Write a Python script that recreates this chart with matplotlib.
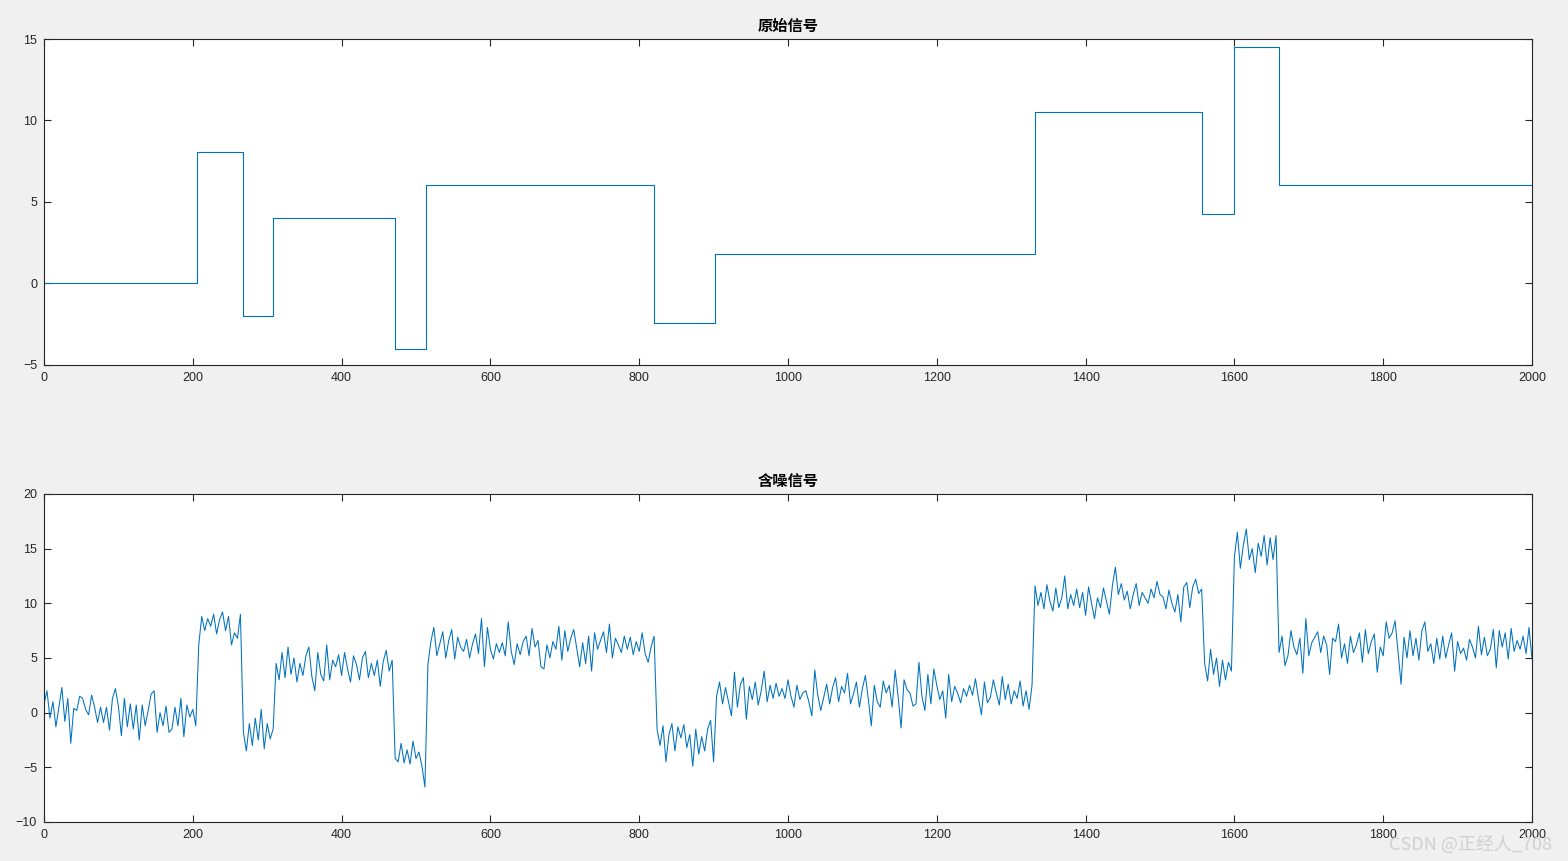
import numpy as np
import matplotlib
matplotlib.use("Agg")
import matplotlib.pyplot as plt

plt.rcParams['font.family'] = ['Liberation Sans', 'Noto Sans CJK SC', 'DejaVu Sans']

# original (blocks) signal: change points and levels
change_points = [0, 205, 267, 308, 472, 513, 820, 902, 1332, 1557, 1599, 1660, 2000]
block_levels = [0, 8.08, -2.02, 4.04, -4.04, 6.06, -2.42, 1.82, 10.5, 4.24, 14.5, 6.06]

# noisy signal, every 4 samples (0..2000)
noisy_step = 4
noisy_signal = [
    0.8, 2.0, -0.5, 1.0, -1.3, 0.5, 2.3, -0.8, 1.3, -2.8, 0.4, 0.2, 1.5, 1.3, 0.3, -0.2, 1.6, 0.5, -0.9, 0.5,
    -0.9, 0.5, -1.6, 1.3, 2.2, 0.6, -2.1, 1.3, -1.3, 0.8, -1.5, 0.7, -2.5, 0.7, -1.2, 0.2, 1.7, 2.0, -1.8, 0.0,
    -1.2, 0.6, -1.8,
    -1.5, 0.5, -1.2, 1.3, -2.2, 0.7, -0.4, 0.3, -1.2,
    6.2, 8.8, 7.5, 8.6, 7.9, 9.0, 7.2, 8.5, 9.2, 7.5, 8.8, 6.2, 7.3, 6.8, 9.0,
    -1.8, -3.5, -1.0, -3.0, -0.5, -2.5, 0.3, -3.3, -1.0, -2.4, -1.5,
    4.5, 3.0, 5.5, 3.2, 6.0, 3.5, 5.0,
    2.8, 4.5, 3.4, 5.2, 6.0, 3.3, 2.0, 5.5, 3.5, 2.9, 6.2, 3.0, 4.8, 4.2, 5.3, 3.4, 5.5, 4.0, 2.8, 5.2,
    4.4, 3.0, 5.0, 5.6, 3.2, 4.5, 3.4, 4.8, 2.4, 4.7, 5.7, 3.8, 4.8,
    -4.2, -4.5, -2.8, -4.6, -3.4, -4.7, -2.6, -4.2,
    -3.6, -4.9, -6.8,
    4.4, 6.5, 7.8, 5.2, 6.3, 7.4, 5.0, 6.6, 7.6, 4.9, 6.9, 6.0, 5.6, 6.7, 5.0, 6.3, 7.2, 5.4, 8.6, 4.2,
    7.8, 5.8, 4.9, 6.3, 5.5, 6.4, 5.2, 8.3, 5.6, 4.4, 6.3, 5.3, 6.5, 7.0, 5.2, 7.7, 6.0, 6.6, 4.2,
    4.0, 6.2, 5.0, 6.5, 5.8, 7.9, 4.8, 7.5, 5.6, 6.8, 7.6, 5.9, 4.2, 6.4, 4.5, 7.0, 3.8, 7.3, 5.8, 6.6,
    7.4, 5.5, 8.1, 5.0, 6.8, 6.2, 5.5, 7.0, 5.8, 6.9, 5.3, 6.5, 5.6, 7.3, 5.4, 4.6, 6.0, 7.0,
    -1.5, -3.0, -1.2, -4.5,
    -2.0, -1.0, -3.5, -1.3, -2.3, -1.1, -3.2, -2.0, -4.9, -1.5, -3.8, -2.2, -3.5, -1.5, -0.7, -4.5,
    1.5, 2.8, 0.8, 2.3, 1.0, -0.3, 3.7, 0.5, 2.6, 3.2, -0.6, 2.4, 1.2, 2.8, 0.7, 2.0, 3.8, 1.0, 2.5, 1.3,
    2.7, 1.5, 2.2, 1.3, 3.0,
    1.5, 0.5, 2.5, 1.2, 1.8, 2.0, 1.0, -0.3, 3.9, 1.6, 0.2, 1.4, 2.6, 0.8, 2.3, 3.2, 1.0, 2.4, 1.8, 3.6,
    0.8, 1.7, 2.8, 0.5, 2.2, 3.4, 1.2, -1.2, 2.5, 1.0, 0.5, 2.9, 1.8, 2.5, 0.5, 3.9, 1.5, -1.4, 3.0, 2.1,
    1.8, 0.6,
    0.8, 4.6, 1.5, 0.2, 3.5, 0.8, 4.0, 2.5, 1.2, 2.0, -0.5, 3.5, 1.0, 2.4, 1.8, 0.9, 2.2, 1.5, 2.5, 1.6,
    3.1, 1.3, -0.2, 2.8, 0.9, 1.4, 3.0, 1.8, 0.7, 3.3, 1.2, 2.6, 0.8, 2.0, 1.3, 2.9, 0.6, 2.0, 0.3, 2.5,
    11.6,
    9.8, 11.0, 9.5, 11.7, 10.2, 9.3, 11.4, 9.6, 10.5, 12.5, 9.5, 10.8, 9.8, 11.3, 9.6, 11.0, 8.9, 11.5, 10.0, 8.6,
    10.5, 9.6, 11.4, 10.2, 9.0, 11.6, 13.3, 10.8, 11.8, 10.3, 11.1, 9.5, 10.8, 11.8, 9.8, 11.0, 10.5, 10.0, 11.3, 10.5,
    12.0, 10.8,
    10.6, 9.5, 11.2, 10.0, 9.2, 10.8, 8.3, 11.5, 11.9, 9.6, 11.5, 12.2, 10.9, 11.3,
    4.5, 2.9, 5.8, 3.5, 5.0, 2.4, 4.8, 3.0, 4.6, 3.8,
    14.2, 16.5, 13.2, 15.3, 16.8, 14.0, 15.0, 12.8, 15.5, 14.3, 16.2, 13.5, 16.0, 14.0, 16.2,
    5.5, 7.0, 4.3,
    5.2, 7.5, 6.0, 5.3, 6.8, 3.6, 8.6, 5.2, 6.4, 6.9, 7.4, 5.5, 7.0, 6.2, 3.5, 6.8, 6.5, 8.1, 5.0, 6.3,
    4.5, 7.0, 5.5, 6.2, 7.3, 4.6, 7.6, 5.4, 6.5, 7.2, 3.7, 6.0, 5.2, 8.3, 6.8, 7.3, 8.4, 5.5, 2.6, 6.9,
    5.0, 7.5,
    5.2, 6.8, 4.8, 7.5, 8.3, 5.6, 6.3, 4.5, 6.8, 4.9, 7.0, 5.0, 6.2, 7.3, 3.8, 6.5, 5.4, 5.9, 4.8, 6.7,
    6.0, 5.0, 7.9, 5.3, 6.9, 5.2, 5.8, 7.6, 4.1, 7.5, 6.0, 7.3, 4.9, 7.7, 5.6, 6.6, 5.8, 7.0, 5.4, 7.8,
    4.9,
]

titles = ['原始信号', '含噪信号']
line_color = '#0072BD'

fig = plt.figure(figsize=(15.68, 8.61), dpi=100, facecolor='#f0f0f0')
ax1 = fig.add_axes([0.02806, 0.5761, 0.94898, 0.3786])
ax2 = fig.add_axes([0.02806, 0.0453, 0.94898, 0.3810])

# top: original blocks
ax1.plot(change_points, block_levels + [block_levels[-1]], drawstyle='steps-post',
         color=line_color, linewidth=0.8)
ax1.set_xlim(0, 2000)
ax1.set_ylim(-5, 15)
ax1.set_yticks([-5, 0, 5, 10, 15])

# bottom: noisy
x_noisy = np.arange(len(noisy_signal)) * noisy_step
ax2.plot(x_noisy, noisy_signal, color=line_color, linewidth=0.75)
ax2.set_xlim(0, 2000)
ax2.set_ylim(-10, 20)
ax2.set_yticks([-10, -5, 0, 5, 10, 15, 20])

for ax, title in zip([ax1, ax2], titles):
    ax.set_facecolor('white')
    ax.set_xticks(range(0, 2001, 200))
    ax.tick_params(direction='in', top=True, right=True, length=5, width=0.8,
                   labelsize=9, colors='#262626', pad=5)
    for sp in ax.spines.values():
        sp.set_color('#262626')
        sp.set_linewidth(0.8)
    ax.set_title(title, fontsize=11, fontweight='bold', family=['Noto Sans CJK SC'],
                 color='black', pad=6)

# watermark (sits over the last x tick labels, as in the original)
fig.text(0.99, 0.008, 'CSDN @正经人_708', ha='right', va='bottom', fontsize=13,
         color='#d0d0d0', family=['Noto Sans CJK SC', 'DejaVu Sans'])

fig.savefig('out.png', dpi=100, facecolor=fig.get_facecolor())
